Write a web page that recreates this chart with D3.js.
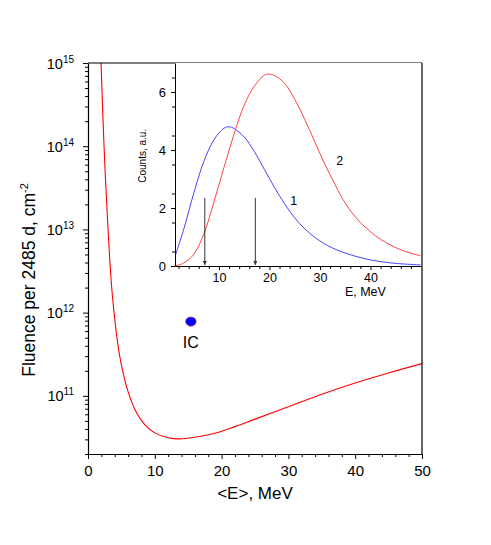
<!doctype html>
<html lang="en">
  <head>
    <meta charset="utf-8">
    <script src="https://d3js.org/d3.v7.min.js"></script>
    <title>Fluence vs mean energy</title>
    <style>
      body { margin: 0; background: #fff; }
      text { font-family: "Liberation Sans", Arial, sans-serif; fill: #000; }
    </style>
  </head>
  <body>
    <svg id="chart" width="491" height="545"></svg>

  <script type="text/javascript">

// main curve: <E> (MeV) vs log10 fluence
var mainE   = [1.95, 2.4, 3.0, 3.5, 3.9, 4.3, 4.7, 5.3, 6.0, 7.0, 8.5, 10, 12, 13.7, 16, 19, 22, 25, 30, 35, 40, 45, 50];
var mainLog = [15.0, 14.0, 13.0, 12.35, 12.0, 11.72, 11.5, 11.26, 11.05, 10.84, 10.655, 10.555, 10.497, 10.483, 10.503, 10.55, 10.63, 10.72, 10.87, 11.02, 11.155, 11.275, 11.387];

// IC point
var icE = 15.4, icF = 7.8e11;

// inset spectra
var blueE = [1.3, 3, 5, 7, 9, 11, 12, 13, 15, 17, 19, 21, 23, 25, 27, 30, 33, 36, 40, 45, 49.9];
var blueV = [0.33, 1.25, 2.5, 3.6, 4.35, 4.75, 4.8, 4.74, 4.45, 3.95, 3.33, 2.71, 2.14, 1.66, 1.28, 0.86, 0.58, 0.39, 0.21, 0.09, 0.04];
var redE  = [1.3, 3, 5, 7, 9, 11, 13, 15, 17, 19, 19.8, 21, 23, 25, 27, 29, 31, 33, 35, 38, 42, 46, 49.9];
var redV  = [0, 0.1, 0.4, 1.1, 2.2, 3.4, 4.55, 5.55, 6.2, 6.58, 6.62, 6.57, 6.3, 5.75, 5.05, 4.27, 3.5, 2.8, 2.17, 1.5, 0.92, 0.56, 0.35];
var arrowE = [7.2, 17.2];
var arrowTop = 2.35;

var mainXTicks = [0, 10, 20, 30, 40, 50];
var mainYTicks = [11, 12, 13, 14, 15];
var insetXTicks = [10, 20, 30, 40];
var insetYTicks = [0, 2, 4, 6];

var svg = d3.select("#chart");

// ---------- main plot ----------
var m = {left: 88, right: 422, top: 63, bottom: 454};
var x = d3.scaleLinear().domain([0, 50]).range([m.left, m.right]);
var y = d3.scaleLog().domain([2e10, 1e15]).range([m.bottom, m.top]);

svg.append("clipPath").attr("id", "clipMain").append("rect")
  .attr("x", m.left).attr("y", m.top).attr("width", m.right - m.left).attr("height", m.bottom - m.top);

var mainPts = mainE.map(function(e, i) { return [e, Math.pow(10, mainLog[i])]; });
svg.append("path").datum(mainPts)
  .attr("clip-path", "url(#clipMain)")
  .attr("fill", "none").attr("stroke", "#ff0000").attr("stroke-width", 1.1)
  .attr("d", d3.line().x(function(d) { return x(d[0]); }).y(function(d) { return y(d[1]); }).curve(d3.curveCatmullRom.alpha(0.5)));

// x axis
var minorX = d3.range(0, 51, 2).filter(function(v) { return v % 10 != 0; });
var gx = svg.append("g").attr("transform", "translate(0," + m.bottom + ")");
gx.call(d3.axisBottom(x).tickValues(minorX).tickSize(3).tickFormat(""));
gx.call(function(g) { g.select(".domain").remove(); });
var gx2 = svg.append("g").attr("transform", "translate(0," + m.bottom + ")");
gx2.call(d3.axisBottom(x).tickValues(mainXTicks).tickSize(5).tickSizeOuter(0).tickPadding(6).tickFormat(d3.format("d")));
gx2.selectAll("text").style("font-size", "15px");

// y axis (log)
var minorY = [];
for (var p = 10; p < 15; p++) for (var k = 2; k <= 9; k++) {
  if (k * Math.pow(10, p) >= 2e10) minorY.push(k * Math.pow(10, p));
}
var gy = svg.append("g").attr("transform", "translate(" + m.left + ",0)");
gy.call(d3.axisLeft(y).tickValues(minorY).tickSize(3).tickFormat(""));
gy.call(function(g) { g.select(".domain").remove(); });
var gy2 = svg.append("g").attr("transform", "translate(" + m.left + ",0)");
gy2.call(d3.axisLeft(y).tickValues(mainYTicks.map(function(p) { return Math.pow(10, p); })).tickSize(5).tickSizeOuter(0).tickFormat(""));
gy2.selectAll(".tick").each(function(d) {
  var t = d3.select(this).append("text").attr("x", -14).attr("dy", "0.35em")
    .attr("text-anchor", "end").style("font-size", "14.5px").attr("fill", "#000");
  t.append("tspan").text("10");
  t.append("tspan").attr("dy", "-0.6em").style("font-size", "10px").text(Math.round(Math.log10(d)));
});

svg.selectAll(".domain").attr("stroke-width", 1.2);

// frame top + right
svg.append("line").attr("x1", m.left).attr("x2", m.right).attr("y1", m.top).attr("y2", m.top).attr("stroke", "#000").attr("stroke-width", 1.2);
svg.append("line").attr("x1", m.right).attr("x2", m.right).attr("y1", m.top).attr("y2", m.bottom).attr("stroke", "#000").attr("stroke-width", 1.2);

// axis titles
svg.append("text").attr("x", x(25)).attr("y", 499).attr("text-anchor", "middle").style("font-size", "17px").text("<E>, MeV");
var yt = svg.append("text").attr("transform", "translate(35,280) rotate(-90)")
  .attr("text-anchor", "middle").style("font-size", "17.5px");
yt.append("tspan").text("Fluence per 2485 d, cm");
yt.append("tspan").attr("dy", "-0.6em").style("font-size", "11px").text("-2");

// IC point
svg.append("ellipse").attr("cx", x(icE)).attr("cy", y(icF)).attr("rx", 5.3).attr("ry", 4.6)
  .attr("fill", "#0000ff").attr("stroke", "#c03060").attr("stroke-width", 0.6);
svg.append("text").attr("x", x(icE)).attr("y", y(icF) + 26).attr("text-anchor", "middle").style("font-size", "16px").text("IC");

// ---------- inset ----------
var n = {left: 175, right: 421, top: 63, bottom: 266};
var xi = d3.scaleLinear().domain([1.3, 50]).range([n.left, n.right]);
var yi = d3.scaleLinear().domain([0, 7]).range([n.bottom, n.top]);

svg.append("rect").attr("x", n.left).attr("y", n.top).attr("width", n.right - n.left).attr("height", n.bottom - n.top).attr("fill", "#fff");

svg.append("clipPath").attr("id", "clipInset").append("rect")
  .attr("x", n.left).attr("y", n.top).attr("width", n.right - n.left).attr("height", n.bottom - n.top);

var lineI = d3.line().x(function(d) { return xi(d[0]); }).y(function(d) { return yi(d[1]); }).curve(d3.curveCatmullRom.alpha(0.5));
svg.append("path").datum(blueE.map(function(e, i) { return [e, blueV[i]]; }))
  .attr("clip-path", "url(#clipInset)").attr("fill", "none").attr("stroke", "#4444ff").attr("stroke-width", 1).attr("d", lineI);
svg.append("path").datum(redE.map(function(e, i) { return [e, redV[i]]; }))
  .attr("clip-path", "url(#clipInset)").attr("fill", "none").attr("stroke", "#ff4444").attr("stroke-width", 1).attr("d", lineI);

// arrows
svg.append("defs").append("marker").attr("id", "head").attr("viewBox", "0 0 10 10")
  .attr("refX", 10).attr("refY", 5).attr("markerWidth", 4).attr("markerHeight", 4).attr("orient", "auto")
  .append("path").attr("d", "M0,0L10,5L0,10z").attr("fill", "#333");
svg.selectAll(".arrow").data(arrowE).enter().append("line").attr("class", "arrow")
  .attr("x1", function(d) { return xi(d); }).attr("x2", function(d) { return xi(d); })
  .attr("y1", yi(arrowTop)).attr("y2", yi(0) - 1)
  .attr("stroke", "#333").attr("stroke-width", 1).attr("marker-end", "url(#head)");

var gxi = svg.append("g").attr("transform", "translate(0," + n.bottom + ")");
gxi.call(d3.axisBottom(xi).tickValues(d3.range(2, 50, 2).filter(function(v) { return v % 10 != 0; })).tickSize(3).tickFormat(""));
gxi.call(function(g) { g.select(".domain").remove(); });
var gxi2 = svg.append("g").attr("transform", "translate(0," + n.bottom + ")");
gxi2.call(d3.axisBottom(xi).tickValues(insetXTicks).tickSize(4).tickSizeOuter(0).tickPadding(3).tickFormat(d3.format("d")));
gxi2.selectAll("text").style("font-size", "12.5px");

var gyi = svg.append("g").attr("transform", "translate(" + n.left + ",0)");
gyi.call(d3.axisLeft(yi).tickValues(d3.range(0.5, 7, 1)).tickSize(3).tickFormat(""));
gyi.call(function(g) { g.select(".domain").remove(); });
var gyi2 = svg.append("g").attr("transform", "translate(" + n.left + ",0)");
gyi2.call(d3.axisLeft(yi).tickValues(insetYTicks).tickSize(4).tickSizeOuter(0).tickPadding(5).tickFormat(d3.format("d")));
gyi2.selectAll("text").style("font-size", "13px");

svg.append("text").attr("x", xi(39)).attr("y", 296).attr("text-anchor", "middle").style("font-size", "12.5px").text("E, MeV");
svg.append("text").attr("transform", "translate(146," + yi(3.8) + ") rotate(-90)").attr("text-anchor", "middle").style("font-size", "10px").text("Counts, a.u.");
svg.append("text").attr("x", xi(24.8)).attr("y", yi(2.1)).attr("text-anchor", "middle").style("font-size", "12.5px").text("1");
svg.append("text").attr("x", xi(33.9)).attr("y", yi(3.5)).attr("text-anchor", "middle").style("font-size", "12.5px").text("2");

</script>
  </body>
</html>
